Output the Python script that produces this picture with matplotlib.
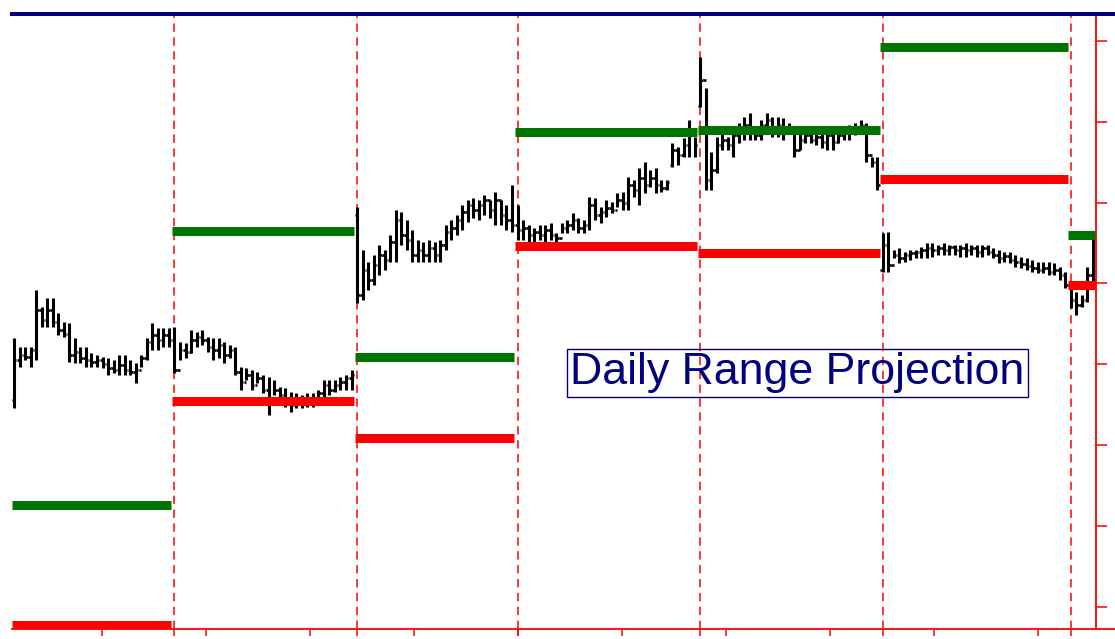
import matplotlib.pyplot as plt
import numpy as np
from matplotlib.lines import Line2D

plt.rcParams['font.family'] = ['Liberation Sans', 'DejaVu Sans']
plt.rcParams['lines.scale_dashes'] = False

# bars per session (last one is still running)
day_sizes = [29, 33, 29, 33, 33, 34, 5]

# OHLC (points)
highs = [302, 293, 293, 293, 350, 333, 342, 342, 327, 318, 317, 302, 293, 293, 287, 285, 283, 282, 280, 285,
         285, 280, 277, 285, 302, 317, 312, 312, 312,
         313, 298, 297, 310, 308, 310, 303, 302, 302, 298, 295, 293, 273, 272, 270, 268, 265, 263, 260, 253,
         252, 248, 247, 245, 247, 247, 250, 260, 260, 260, 263, 265, 270,
         433, 390, 378, 385, 395, 390, 405, 430, 428, 420, 410, 400, 398, 400, 398, 400, 415, 420, 425, 435,
         440, 442, 440, 445, 440, 448, 440, 435, 455,
         435, 420, 415, 412, 415, 415, 417, 407, 417, 420, 427, 422, 420, 443, 442, 433, 440, 438, 447, 448,
         463, 460, 472, 478, 470, 472, 460, 460, 497, 493, 502, 520, 503,
         583, 552, 488, 503, 507, 503, 510, 517, 523, 527, 513, 520, 527, 523, 523, 522, 517, 510, 507, 510,
         508, 507, 508, 510, 507, 510, 510, 515, 517, 520, 517, 483, 483,
         407, 408, 390, 392, 388, 390, 390, 393, 397, 397, 395, 397, 395, 395, 395, 397, 395, 395, 395, 395,
         392, 390, 388, 388, 385, 383, 382, 380, 378, 378, 378, 377, 373, 368,
         357, 348, 345, 373, 405]
lows = [232, 273, 280, 273, 280, 313, 313, 313, 305, 303, 278, 277, 277, 273, 273, 273, 272, 265, 267, 265,
        265, 265, 257, 273, 280, 290, 290, 293, 293,
        267, 280, 282, 287, 293, 295, 288, 280, 282, 277, 282, 265, 250, 260, 250, 257, 247, 225, 245, 243,
        233, 228, 232, 232, 233, 233, 242, 242, 245, 248, 250, 250, 250,
        337, 340, 350, 355, 365, 370, 378, 378, 395, 390, 378, 378, 378, 378, 378, 378, 390, 400, 405, 410,
        418, 422, 420, 425, 422, 415, 415, 410, 408,
        400, 400, 398, 398, 400, 398, 400, 397, 407, 407, 410, 407, 407, 410, 420, 417, 423, 427, 433, 430,
        430, 443, 435, 447, 453, 447, 448, 450, 473, 475, 483, 483, 483,
        533, 450, 450, 467, 490, 490, 483, 497, 500, 500, 500, 500, 507, 503, 503, 500, 507, 483, 490, 497,
        497, 495, 492, 490, 490, 497, 500, 500, 505, 507, 478, 473, 450,
        368, 368, 382, 377, 378, 380, 382, 382, 382, 383, 385, 385, 385, 385, 383, 383, 385, 383, 383, 385,
        382, 377, 378, 377, 373, 372, 370, 368, 367, 367, 365, 365, 360, 352,
        332, 325, 333, 338, 357]
opens = [240, 280, 285, 283, 290, 330, 320, 330, 318, 310, 306, 285, 288, 282, 280, 278, 280, 276, 272, 270,
         275, 270, 268, 270, 282, 298, 305, 300, 305,
         300, 270, 290, 288, 300, 303, 300, 293, 290, 295, 285, 290, 268, 258, 265, 255, 262, 250, 240, 250,
         245, 240, 235, 240, 236, 240, 238, 247, 255, 250, 255, 258, 262,
         425, 345, 370, 360, 375, 385, 380, 398, 420, 405, 400, 385, 390, 385, 392, 385, 395, 408, 412, 420,
         428, 435, 430, 435, 440, 430, 440, 425, 420,
         415, 410, 412, 405, 408, 405, 410, 405, 402, 412, 415, 420, 412, 415, 435, 425, 428, 432, 430, 440,
         437, 455, 450, 462, 455, 462, 455, 452, 475, 490, 485, 495, 505,
         534, 560, 460, 470, 495, 500, 495, 505, 510, 515, 508, 505, 515, 520, 510, 515, 510, 512, 490, 500,
         505, 500, 503, 498, 505, 498, 505, 507, 512, 513, 515, 485, 478,
         370, 395, 375, 385, 382, 385, 387, 388, 390, 392, 390, 392, 390, 393, 390, 392, 390, 392, 388, 392,
         388, 385, 382, 384, 380, 378, 376, 374, 372, 370, 372, 368, 370, 365,
         355, 340, 335, 340, 365]
closes = [280, 285, 283, 290, 330, 320, 330, 318, 310, 306, 285, 288, 282, 280, 278, 280, 276, 272, 270, 275,
          270, 268, 270, 282, 298, 305, 300, 305, 300,
          270, 290, 288, 300, 303, 300, 293, 290, 295, 285, 290, 268, 258, 265, 255, 262, 250, 240, 250, 245,
          240, 235, 240, 236, 240, 238, 247, 255, 250, 255, 258, 262, 265,
          345, 370, 360, 375, 385, 380, 398, 420, 405, 400, 385, 390, 385, 392, 385, 395, 408, 412, 420, 428,
          435, 430, 435, 440, 430, 440, 425, 420, 415,
          410, 412, 405, 408, 405, 410, 405, 402, 412, 415, 420, 412, 415, 435, 425, 428, 432, 430, 440, 437,
          455, 450, 462, 455, 462, 455, 452, 458, 490, 485, 495, 505, 495,
          560, 460, 470, 495, 500, 495, 505, 510, 515, 508, 505, 515, 520, 510, 515, 510, 512, 490, 500, 505,
          500, 503, 498, 505, 498, 505, 507, 512, 513, 515, 485, 478, 455,
          395, 375, 385, 382, 385, 387, 388, 390, 392, 390, 392, 390, 393, 390, 392, 390, 392, 388, 392, 388,
          385, 382, 384, 380, 378, 376, 374, 372, 370, 372, 368, 370, 365, 355,
          340, 335, 340, 365, 360]

# projected high / low for each session
proj_high = [135, 409, 283, 508, 510, 593, 405]
proj_low = [15, 239, 202, 394, 387, 461, 355]

x = np.arange(len(highs))
day_start = np.cumsum([0] + day_sizes[:-1])
day_end = day_start + np.array(day_sizes) - 1

fig = plt.figure(figsize=(11.15, 6.39), dpi=100)
ax = fig.add_axes([12 / 1115, 10 / 639, 1084 / 1115, 613 / 639])

# session separators
for s in day_start[1:]:
    ax.axvline(s, color='red', lw=1.1, ls=(0, (6, 4)), zorder=1)

# OHLC bars
ax.vlines(x, lows, highs, color='black', lw=2.2, zorder=2)
ax.hlines(opens, x - 0.45, x, color='black', lw=1.9, zorder=2)
ax.hlines(closes, x, x + 0.45, color='black', lw=1.9, zorder=2)

# projection levels
for s, e, hi, lo in zip(day_start, day_end, proj_high, proj_low):
    ax.plot([s - 0.45, e + 0.45], [hi, hi], color='#007400', lw=6.5, solid_capstyle='butt', zorder=3)
    ax.plot([s - 0.45, e + 0.45], [lo, lo], color='#ff0000', lw=6.5, solid_capstyle='butt', zorder=3)

ax.set_xlim(-0.36, len(x) - 1 + 0.55)
ax.set_ylim(11, 624)

for side in ['left', 'top', 'bottom']:
    ax.spines[side].set_visible(False)
ax.spines['right'].set_color('red')
ax.spines['right'].set_linewidth(1.3)

ax.yaxis.tick_right()
ax.set_yticks(33 + 80.9 * np.arange(8))
ax.set_yticklabels([])
ax.tick_params(axis='y', direction='out', length=8, width=1.1, color='red')

xt = list(np.arange(15.9, len(x), 18.8)) + list(day_start[1:])
ax.set_xticks(xt)
ax.set_xticklabels([])
ax.tick_params(axis='x', direction='out', length=5, width=1.1, color='red')

# top and bottom rules
fig.add_artist(Line2D([12 / 1115, 1], [1 - 14 / 639, 1 - 14 / 639], color='#000080', lw=2.9))
fig.add_artist(Line2D([12 / 1115, 1], [10 / 639, 10 / 639], color='red', lw=1.3))

ax.text(0.7245, 0.418, 'Daily Range Projection', transform=ax.transAxes, ha='center', va='center',
        fontsize=32.2, color='#000080', zorder=5,
        bbox=dict(boxstyle='square,pad=0.08', facecolor='none', edgecolor='#000080', lw=1.0))

fig.savefig('out.png', dpi=100)
